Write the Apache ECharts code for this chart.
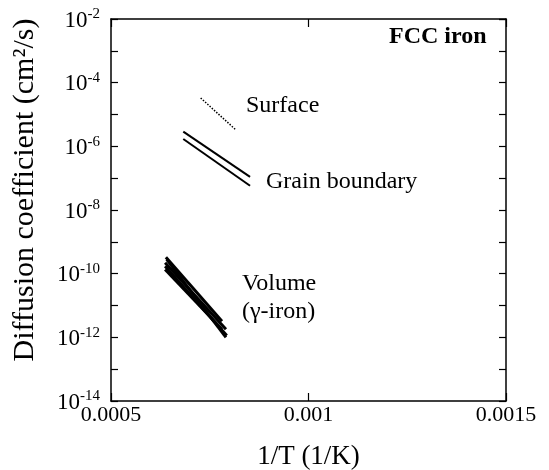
<!DOCTYPE html>
<html>
<head>
<meta charset="utf-8">
<script src="https://cdn.jsdelivr.net/npm/echarts@6/dist/echarts.min.js"></script>
<style>
  html, body { margin: 0; padding: 0; background: #fff; }
  #chart { width: 549px; height: 470px; }
</style>
</head>
<body>
<div id="chart"></div>
<script>
// data: [1/T (1/K), D (cm^2/s)]
const surface = [[0.000727, 3.3e-5], [0.000816, 3.3e-6]]
const grainUpper = [[0.000683, 2.9e-6], [0.000852, 1.1e-7]]
const grainLower = [[0.000683, 1.7e-6], [0.000852, 5.8e-8]]
const volumeA = [[0.000639, 3.3e-10], [0.000781, 3.2e-12]]
const volumeB = [[0.000637, 2.2e-10], [0.000791, 1.8e-12]]
const volumeC = [[0.000637, 1.7e-10], [0.000793, 1.15e-12]]
const volumeD = [[0.000637, 1.35e-10], [0.000781, 1.8e-12]]
const volumeE = [[0.000641, 2.8e-10], [0.000791, 1.0e-12]]
const xTicks = [0.0005, 0.001, 0.0015]

const FONT = '"Liberation Serif", "DejaVu Serif", serif'

const c = echarts.init(document.getElementById('chart'))

const lineSeries = (name, data, width, type) => ({
  name: name,
  type: 'line',
  data: data,
  symbol: 'none',
  silent: true,
  lineStyle: { color: '#000', width: width, type: type || 'solid' }
})

const yBase = {
  type: 'log',
  logBase: 10,
  min: 1e-14,
  max: 1e-2,
  interval: 1,
  axisLine: { show: true, lineStyle: { color: '#000', width: 1.5 } },
  axisTick: { show: true, inside: true, length: 7, lineStyle: { color: '#000', width: 1.2 } },
  splitLine: { show: false },
  minorTick: { show: false }
}

const xBase = {
  type: 'value',
  min: xTicks[0],
  max: xTicks[xTicks.length - 1],
  interval: xTicks[1] - xTicks[0],
  axisLine: { show: true, lineStyle: { color: '#000', width: 1.5 } },
  axisTick: { show: true, inside: true, length: 8, lineStyle: { color: '#000', width: 1.2 } },
  splitLine: { show: false }
}

let c_opt = {
  backgroundColor: '#fff',
  animation: false,
  grid: { left: 111, right: 43, top: 19, bottom: 69, outerBoundsMode: 'none', containLabel: false },
  xAxis: [
    Object.assign({}, xBase, {
      position: 'bottom',
      name: '1/T (1/K)',
      nameLocation: 'middle',
      nameGap: 42,
      nameTextStyle: { fontFamily: FONT, fontSize: 27, color: '#000' },
      axisLabel: {
        fontFamily: FONT,
        fontSize: 22,
        color: '#000',
        margin: 3,
        formatter: (v) => String(v)
      }
    }),
    Object.assign({}, xBase, { position: 'top', axisLabel: { show: false } })
  ],
  yAxis: [
    Object.assign({}, yBase, {
      position: 'left',
      axisLabel: {
        margin: 11,
        formatter: (v) => {
          const e = Math.round(Math.log10(v))
          if (e % 2 !== 0) return ''
          return '{b|10}{s|' + e + '}'
        },
        rich: {
          b: { fontFamily: FONT, fontSize: 23, color: '#000', padding: [3, 0, 0, 0] },
          s: { fontFamily: FONT, fontSize: 15, color: '#000', padding: [0, 0, 9, 0] }
        }
      }
    }),
    Object.assign({}, yBase, { position: 'right', axisLabel: { show: false } })
  ],
  graphic: [
    {
      type: 'text',
      x: 25,
      y: 190,
      rotation: Math.PI / 2,
      style: {
        text: 'Diffusion coefficient (cm²/s)',
        font: '30px ' + FONT,
        fill: '#000',
        textAlign: 'center',
        textVerticalAlign: 'middle'
      }
    },
    { type: 'text', left: 389, top: 25, style: { text: 'FCC iron', font: 'bold 24px ' + FONT, fill: '#000' } },
    { type: 'text', left: 246, top: 94, style: { text: 'Surface', font: '24px ' + FONT, fill: '#000' } },
    { type: 'text', left: 266, top: 170, style: { text: 'Grain boundary', font: '24px ' + FONT, fill: '#000' } },
    { type: 'text', left: 242, top: 272, style: { text: 'Volume', font: '24px ' + FONT, fill: '#000' } },
    { type: 'text', left: 242, top: 300, style: { text: '(γ-iron)', font: '24px ' + FONT, fill: '#000' } }
  ],
  series: [
    lineSeries('Surface', surface, 1.5, 'dotted'),
    lineSeries('Grain boundary 1', grainUpper, 2),
    lineSeries('Grain boundary 2', grainLower, 2),
    lineSeries('Volume A', volumeA, 3),
    lineSeries('Volume B', volumeB, 3),
    lineSeries('Volume C', volumeC, 3),
    lineSeries('Volume D', volumeD, 3),
    lineSeries('Volume E', volumeE, 3)
  ]
}
c.setOption(c_opt)
</script>
</body>
</html>
